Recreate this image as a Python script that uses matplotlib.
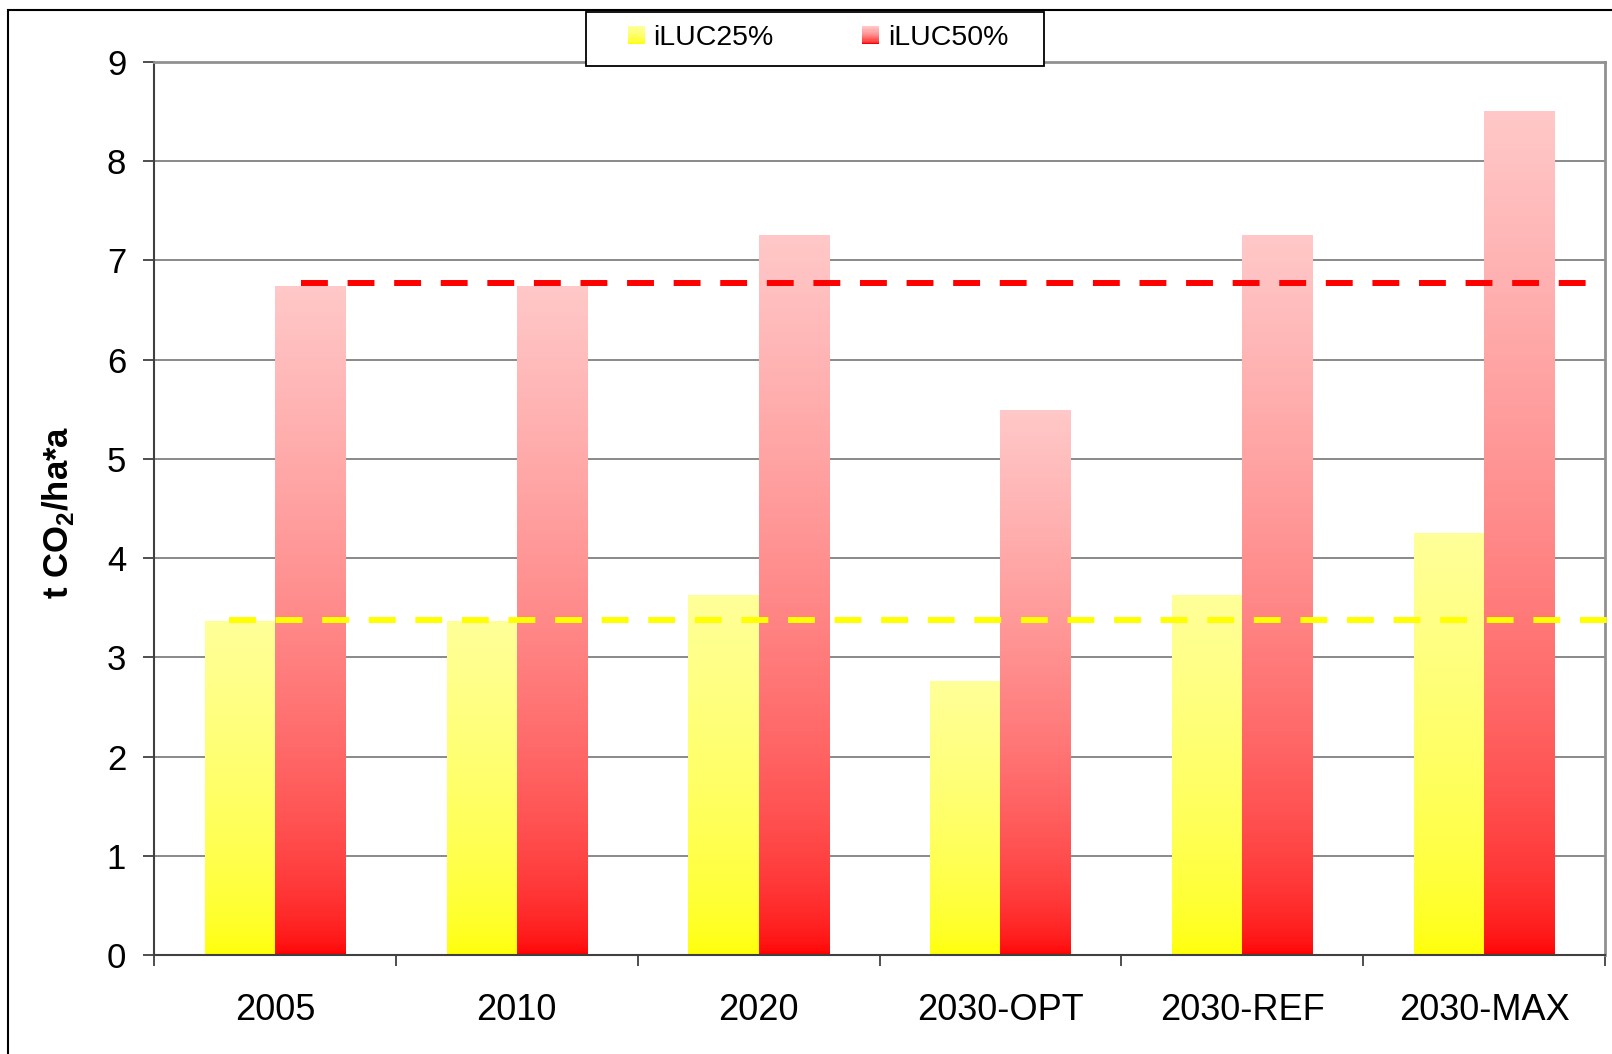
import numpy as np
import matplotlib
matplotlib.use('Agg')
import matplotlib.pyplot as plt
from matplotlib.patches import Rectangle, Patch
from matplotlib.legend_handler import HandlerBase
from matplotlib.colors import to_rgb

plt.rcParams['font.family'] = 'Liberation Sans'
plt.rcParams['mathtext.fontset'] = 'custom'
plt.rcParams['mathtext.rm'] = 'Liberation Sans'
plt.rcParams['mathtext.bf'] = 'Liberation Sans:bold'

categories = ['2005', '2010', '2020', '2030-OPT', '2030-REF', '2030-MAX']
iluc25 = [3.36, 3.36, 3.62, 2.76, 3.62, 4.25]
iluc50 = [6.74, 6.74, 7.25, 5.49, 7.25, 8.5]
avg25 = 3.38
avg50 = 6.77
series_names = ['iLUC25%', 'iLUC50%']

# gradient colours (bottom, top)
yel = ('#FFFF00', '#FFFF99')
red = ('#FF0000', '#FFC8C8')


def grad_img(c0, c1, n=256, p=0.55):
    s = np.linspace(0, 1, n) ** p
    a, b = np.array(to_rgb(c0)), np.array(to_rgb(c1))
    col = a[None, :] + (b - a)[None, :] * s[:, None]
    return col[:, None, :]


class GradHandler(HandlerBase):
    def __init__(self, c0, c1, n=16):
        super().__init__()
        self.c0, self.c1, self.n = c0, c1, n

    def create_artists(self, legend, orig_handle, xdescent, ydescent,
                       width, height, fontsize, trans):
        img = grad_img(self.c0, self.c1, self.n)[:, 0, :]
        arts = []
        for i in range(self.n):
            r = Rectangle((-xdescent, -ydescent + i * height / self.n),
                          width, height / self.n + 0.3, facecolor=img[i],
                          edgecolor='none', transform=trans)
            arts.append(r)
        return arts


fig = plt.figure(figsize=(16.12, 10.54), dpi=100)
ax = fig.add_axes([0.0955, 0.0939, 0.9002, 0.8473])

x = np.arange(len(categories))
w = 0.29

b1 = ax.bar(x - w / 2, iluc25, w, facecolor='none', edgecolor='none', zorder=2)
b2 = ax.bar(x + w / 2, iluc50, w, facecolor='none', edgecolor='none', zorder=2)

for bars, (c0, c1) in [(b1, yel), (b2, red)]:
    g = grad_img(c0, c1)
    for p in bars:
        x0, y0 = p.get_x(), p.get_y()
        ax.imshow(g, extent=[x0, x0 + p.get_width(), y0, y0 + p.get_height()],
                  origin='lower', aspect='auto', zorder=2, interpolation='bilinear')

ax.plot([0.11, 5.48], [avg50, avg50], color='#FF0000', lw=4.3,
        dashes=(4.5, 3.3), zorder=4)
ax.plot([-0.19, 5.53], [avg25, avg25], color='#FFFF00', lw=4.3,
        dashes=(4.5, 3.3), zorder=4, clip_on=False)

ax.set_xlim(-0.5, 5.5)
ax.set_ylim(0, 9)
ax.set_aspect('auto')

ax.set_yticks(np.arange(0, 10, 1))
ax.tick_params(axis='y', labelsize=25, length=8, width=1.3, direction='out',
               color='#404040', pad=12)
ax.yaxis.grid(True, color='#808080', lw=1.3, zorder=0)
ax.set_axisbelow(True)

ax.set_xticks(np.arange(-0.5, 6, 1))
ax.set_xticklabels([])
ax.set_xticks(x, minor=True)
ax.set_xticklabels(categories, minor=True)
ax.tick_params(axis='x', which='major', length=8, width=1.3, direction='out',
               color='#404040')
ax.tick_params(axis='x', which='minor', length=0, labelsize=26, pad=27)

for s in ['left', 'bottom']:
    ax.spines[s].set_color('#404040')
    ax.spines[s].set_linewidth(1.5)
for s in ['right', 'top']:
    ax.spines[s].set_color('#909090')
    ax.spines[s].set_linewidth(2)

fig.text(58 / 1612, 1 - 512 / 1054, 't CO$_\\mathbf{2}$/ha*a', rotation=90,
         fontsize=25, fontweight='bold', ha='center', va='center')

# frame around the chart area
fig.add_artist(Rectangle((0.005, -0.1), 1.1, 1.0905, fill=False, lw=1.5,
                         edgecolor='black', transform=fig.transFigure))

# legend box
fig.add_artist(Rectangle((586 / 1612, 1 - 66 / 1054), 458 / 1612, 54 / 1054,
                         facecolor='white', edgecolor='black', lw=1.3,
                         transform=fig.transFigure, zorder=5))

h1 = Patch(label=series_names[0])
h2 = Patch(label=series_names[1])
leg = fig.legend([h1, h2], series_names, loc='center',
                 bbox_to_anchor=(818 / 1612, 1 - 38 / 1054), ncol=2,
                 fontsize=20.5, frameon=False,
                 handlelength=0.6, handleheight=0.6, handletextpad=0.3,
                 columnspacing=3.1, borderpad=0.3,
                 handler_map={h1: GradHandler(*yel), h2: GradHandler(*red)})
leg.set_zorder(6)

fig.savefig('out.png', dpi=100)
